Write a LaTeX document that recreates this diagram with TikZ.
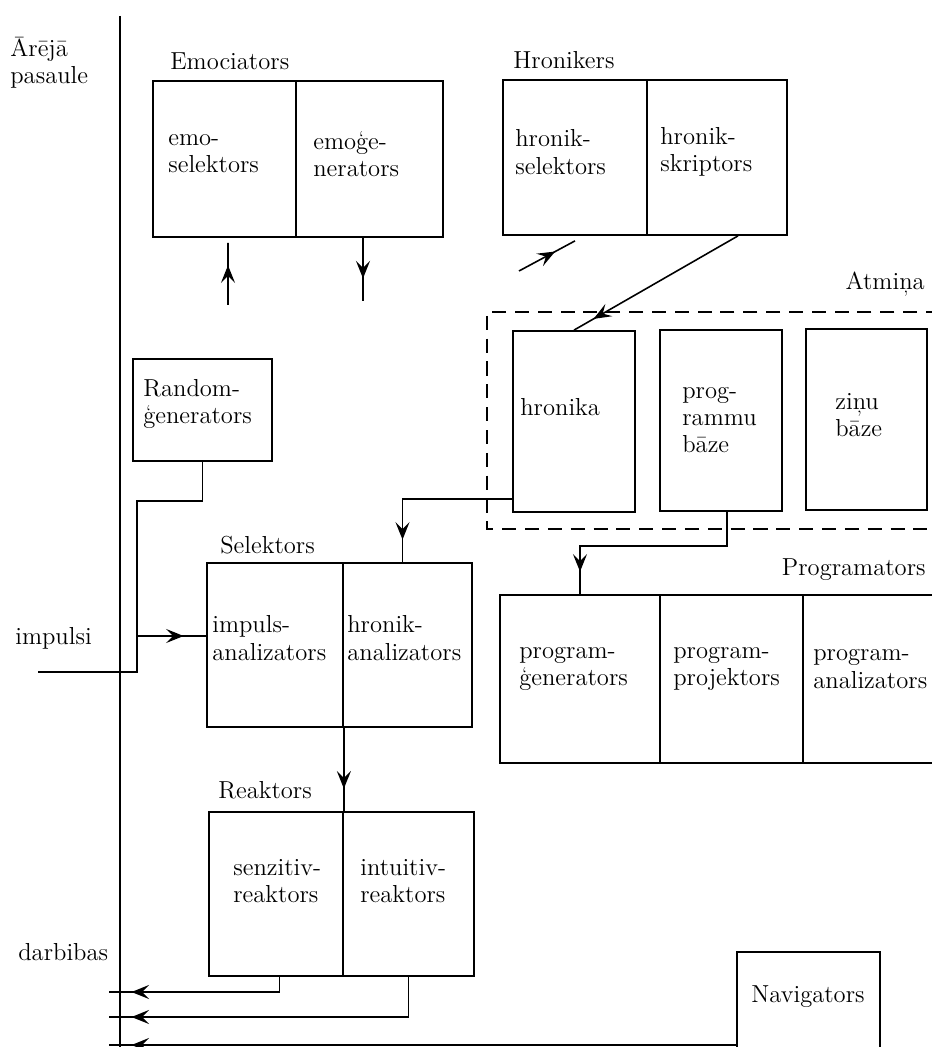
\documentclass[tikz,border=0pt]{standalone}
\usepackage{fontspec}
\usepackage{tikz}
\usetikzlibrary{calc}
\usetikzlibrary{arrows.meta,decorations.markings}
\usetikzlibrary{fit,positioning}

\tikzset{
  blk/.style={draw,line width=1pt,inner sep=0pt},
  txt/.style={anchor=west,align=left,inner sep=0pt,font=\fontsize{14}{15.5}\selectfont},
  wire/.style={line width=0.9pt},
  flow/.style={wire,postaction={decorate},
    decoration={markings,mark=at position -0.45cm with {\arrow{Stealth[length=10pt,width=8pt,inset=4pt]}}}}
}

\begin{document}
\begin{tikzpicture}[x=0.02cm,y=-0.02cm]
    \useasboundingbox (0,0) rectangle (931,1047);
    % boundary to the outer world
    \coordinate (top) at (120,16);
    \coordinate (bot) at (120,1060);
    \draw[wire] (top) -- (bot);
    \node[txt] (outer) at (10,63) {Ārējā\\pasaule};
    \node[txt] (impl) at (15,638) {impulsi};
    \node[txt] (darb) at (18,952) {darbibas};

    % Emociators
    \node[blk,fit={(153,81) (296,237)}] (emosel) {};
    \node[blk,fit={(296,81) (443,237)}] (emogen) {};
    \node[txt] (l-emo) at (170,61) {Emociators};
    \node[txt] (t-emosel) at (168,154) {emo-\\selektors};
    \node[txt] (t-emogen) at (313,154) {emoģe-\\nerators};

    % Hronikers
    \node[blk,fit={(503,80) (647,235)}] (hsel) {};
    \node[blk,fit={(647,80) (787,235)}] (hskr) {};
    \node[txt] (l-hron) at (513,60) {Hronikers};
    \node[txt] (t-hsel) at (515,152) {hronik-\\selektors};
    \node[txt] (t-hskr) at (660,152) {hronik-\\skriptors};

    % Atmina
    \draw[wire,dash pattern=on 8pt off 5pt] (940,312) -- (487,312) -- (487,529) -- (940,529);
    \node[txt,anchor=east] (l-atm) at (925,284) {Atmiņa};
    \node[blk,fit={(513,331) (635,512)}] (hron) {};
    \node[blk,fit={(660,330) (782,511)}] (prog) {};
    \node[blk,fit={(806,329) (927,510)}] (zinu) {};
    \node[txt] (t-hron) at (520,407) {hronika};
    \node[txt] (t-prog) at (682,420) {prog-\\rammu\\bāze};
    \node[txt] (t-zinu) at (835,415) {ziņu\\bāze};

    % Randomgenerators
    \node[blk,fit={(133,359) (272,461)}] (rnd) {};
    \node[txt] (t-rnd) at (143,404) {Random-\\ģenerators};

    % Selektors
    \node[blk,fit={(207,563) (343,727)}] (impan) {};
    \node[blk,fit={(343,563) (472,727)}] (hronan) {};
    \node[txt] (l-sel) at (220,545) {Selektors};
    \node[txt] (t-impan) at (212,638) {impuls-\\analizators};
    \node[txt] (t-hronan) at (347,638) {hronik-\\analizators};

    % Programators
    \node[blk,fit={(500,595) (660,763)}] (pgen) {};
    \node[blk,fit={(660,595) (803,763)}] (pproj) {};
    \node[blk,fit={(803,595) (940,763)}] (pan) {};
    \node[txt,anchor=east] (l-prog) at (926,570) {Programators};
    \node[txt] (t-pgen) at (519,669) {program-\\ģenerators};
    \node[txt] (t-pproj) at (673,669) {program-\\projektors};
    \node[txt] (t-pan) at (813,669) {program-\\analizators};

    % Reaktors
    \node[blk,fit={(209,812) (343,976)}] (senz) {};
    \node[blk,fit={(343,812) (474,976)}] (intu) {};
    \node[txt] (l-reak) at (218,790) {Reaktors};
    \node[txt] (t-senz) at (233,881) {senzitiv-\\reaktors};
    \node[txt] (t-intu) at (360,881) {intuitiv-\\reaktors};

    % Navigators
    \node[blk,fit={(737,952) (880,1060)}] (nav) {};
    \node[txt,anchor=center] (t-nav) at (808,997) {Navigators};

    % connectors
    \coordinate (emoin) at (228,305);
    \draw[flow] (emoin) -- ($(emosel.south)+(3.5,5)$);
    \draw[flow] ($(emogen.south)+(-6.5,0)$) -- ++(0,63);
    \coordinate (hin) at (519,271);
    \draw[flow] (hin) -- ($(hsel.south)+(0,5)$);
    \draw[flow] ($(hskr.south)+(21,0)$) -- (hron.north);
    \draw[flow] ($(hron.south west)+(0,-14)$) -| ($(hronan.north)+(-5,0)$);
    \draw[flow] ($(prog.south)+(6,0)$) -- ++(0,34) -| (pgen.north);
    \coordinate (j1) at (137,501);
    \coordinate (j2) at (137,672);
    \coordinate (jin) at (137,636);
    \coordinate (imp) at (38,672);
    \draw[wire] (rnd.south) -- (rnd.south |- j1) -- (j1) -- (j2) -- (imp);
    \draw[flow] (jin) -- (jin -| impan.west);
    \draw[flow] (impan.south east) -- (senz.north east);
    \coordinate (o1) at (109,992);
    \coordinate (o2) at (109,1017);
    \coordinate (o3) at (109,1045);
    \draw[flow] ($(senz.south)+(3.5,0)$) |- (o1);
    \draw[flow] (intu.south) |- (o2);
    \draw[flow] (o3 -| nav.west) -- (o3);
\end{tikzpicture}
\end{document}
